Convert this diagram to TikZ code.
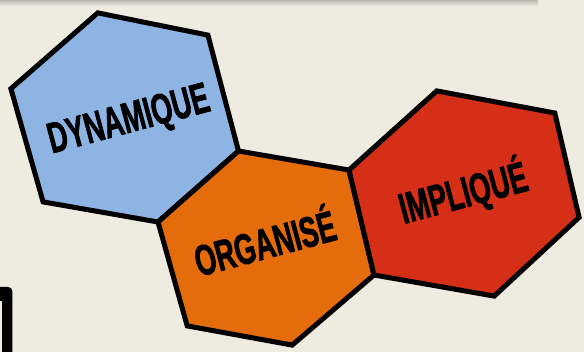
\documentclass[tikz,border=0pt]{standalone}
\usepackage{fontspec}
\newfontfamily\hexfont{Liberation Sans}[BoldFeatures={FakeBold=2}]
\definecolor{bg}{HTML}{EEECE1}
\definecolor{hexblue}{HTML}{8EB4E3}
\definecolor{hexorange}{HTML}{E46C0A}
\definecolor{hexred}{HTML}{D62F17}
\tikzset{
  hexcell/.style={draw=black, line width=5pt, line join=miter},
  hexlabel/.style={anchor=base, rotate=15, inner sep=0pt,
    font=\hexfont\bfseries\fontsize{43}{43}\selectfont}
}
\begin{document}
\begin{tikzpicture}[x=1pt,y=-1pt]
\useasboundingbox (0,0) rectangle (584,352);
\fill[bg] (0,0) rectangle (584,352);
\shade[top color=black!22!bg, bottom color=bg] (0,0) rectangle (538,6);
% fragment at bottom left
\fill[black] (0,352) -- (0,287) -- (8,287) .. controls (10.7,287) and (12.3,288.6) .. (12.3,291.3) -- (12.3,352) -- cycle;
\fill[bg] (0,300.7) rectangle (2.3,352);
% shared vertices
\coordinate (j1) at (238.5,151);
\coordinate (j2) at (158,222);
\coordinate (j3) at (349,170);
\coordinate (j4) at (374,275);
% blue
\coordinate (bt) at (97.8,12.9);
\coordinate (bur) at (207.9,35.1);
\coordinate (bl) at (10.9,88.7);
\coordinate (bll) at (43.1,201.9);
% orange
\coordinate (ob) at (292.2,345.1);
\coordinate (oll) at (187.2,325.9);
% red
\coordinate (rt) at (436.8,90.9);
\coordinate (rur) at (554.8,113);
\coordinate (rlr) at (579.1,217.4);
\coordinate (rb) at (494.2,296.1);
\filldraw[hexcell, fill=hexblue] (bt) -- (bur) -- (j1) -- (j2) -- (bll) -- (bl) -- cycle;
\filldraw[hexcell, fill=hexorange] (j1) -- (j3) -- (j4) -- (ob) -- (oll) -- (j2) -- cycle;
\filldraw[hexcell, fill=hexred] (rt) -- (rur) -- (rlr) -- (rb) -- (j4) -- (j3) -- cycle;
\node[hexlabel] (dyn) at (132,132) {\scalebox{0.63}[1]{DYNAMIQUE}};
\node[hexlabel] (org) at (269,258) {\scalebox{0.63}[1]{ORGANISÉ}};
\node[hexlabel] (imp) at (467,207) {\scalebox{0.63}[1]{IMPLIQUÉ}};
\end{tikzpicture}
\end{document}
